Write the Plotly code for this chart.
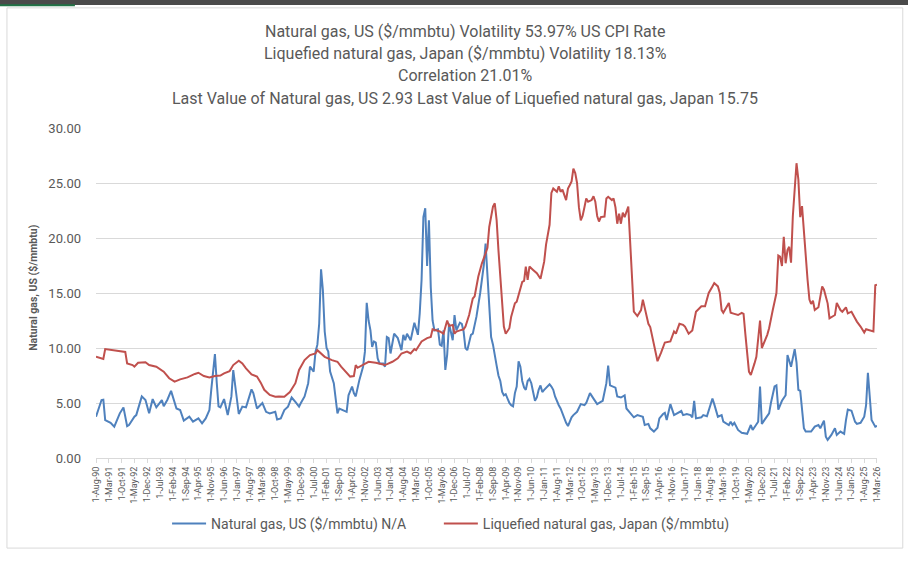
import plotly.graph_objects as go

# values (monthly, $/mmbtu, CPI adjusted)
gas_us_dates = [
    "1990-08", "1990-11", "1990-12", "1991-01", "1991-04", "1991-06", "1991-09", "1991-11",
    "1992-01", "1992-02", "1992-05", "1992-06", "1992-09", "1992-11",
    "1993-01", "1993-03", "1993-05", "1993-08", "1993-09", "1993-11",
    "1994-01", "1994-04", "1994-06", "1994-08", "1994-11",
    "1995-01", "1995-04", "1995-06", "1995-08", "1995-10", "1995-11",
    "1996-01", "1996-02", "1996-03", "1996-04", "1996-06", "1996-08", "1996-10", "1996-11",
    "1997-01", "1997-02", "1997-04", "1997-06", "1997-09", "1997-10", "1997-12",
    "1998-01", "1998-03", "1998-05", "1998-07", "1998-10", "1998-11",
    "1999-01", "1999-03", "1999-05", "1999-07", "1999-09", "1999-11", "1999-12",
    "2000-02", "2000-04", "2000-05", "2000-07", "2000-08", "2000-09", "2000-10", "2000-11", "2000-12",
    "2001-01", "2001-02", "2001-03", "2001-04", "2001-06", "2001-07", "2001-08", "2001-09", "2001-11",
    "2002-01", "2002-02", "2002-04", "2002-05", "2002-06", "2002-08", "2002-10", "2002-11", "2002-12",
    "2003-01", "2003-02", "2003-03", "2003-04", "2003-05", "2003-06", "2003-07", "2003-09",
    "2003-10", "2003-11", "2003-12",
    "2004-01", "2004-03", "2004-05", "2004-07", "2004-08", "2004-09", "2004-10", "2004-12",
    "2005-02", "2005-04", "2005-05", "2005-06", "2005-07", "2005-08", "2005-09", "2005-10",
    "2005-11", "2005-12",
    "2006-01", "2006-03", "2006-04", "2006-05", "2006-06", "2006-07", "2006-08", "2006-09",
    "2006-11", "2006-12",
    "2007-01", "2007-03", "2007-04", "2007-05", "2007-06", "2007-07", "2007-09", "2007-10", "2007-12",
    "2008-02", "2008-03", "2008-04", "2008-05", "2008-06", "2008-07", "2008-08", "2008-09",
    "2008-10", "2008-11", "2008-12",
    "2009-01", "2009-02", "2009-03", "2009-04", "2009-05", "2009-06", "2009-07", "2009-08",
    "2009-09", "2009-10", "2009-11", "2009-12",
    "2010-01", "2010-02", "2010-03", "2010-04", "2010-05", "2010-06", "2010-07", "2010-08",
    "2010-09", "2010-10", "2010-11", "2010-12",
    "2011-01", "2011-02", "2011-03", "2011-04", "2011-05", "2011-06", "2011-07", "2011-08",
    "2011-09", "2011-10", "2011-11", "2011-12",
    "2012-01", "2012-02", "2012-03", "2012-04", "2012-05", "2012-07", "2012-09", "2012-11", "2012-12",
    "2013-02", "2013-04", "2013-06", "2013-08", "2013-09", "2013-11", "2013-12",
    "2014-01", "2014-03", "2014-04", "2014-05", "2014-07", "2014-09", "2014-10", "2014-12",
    "2015-02", "2015-04", "2015-07", "2015-08", "2015-10", "2015-11",
    "2016-01", "2016-03", "2016-04", "2016-06", "2016-07", "2016-08", "2016-10", "2016-12",
    "2017-02", "2017-04", "2017-05", "2017-07", "2017-09", "2017-10", "2017-11", "2017-12",
    "2018-03", "2018-04", "2018-06", "2018-07", "2018-09", "2018-10", "2018-12",
    "2019-02", "2019-03", "2019-06", "2019-07", "2019-08", "2019-09", "2019-11",
    "2020-01", "2020-04", "2020-06", "2020-07", "2020-09", "2020-10", "2020-11", "2020-12",
    "2021-02", "2021-04", "2021-05", "2021-07", "2021-08", "2021-09", "2021-11",
    "2022-01", "2022-02", "2022-04", "2022-06", "2022-07", "2022-08", "2022-09", "2022-11", "2022-12",
    "2023-03", "2023-05", "2023-07", "2023-08", "2023-10", "2023-11", "2023-12",
    "2024-02", "2024-04", "2024-05", "2024-07", "2024-09", "2024-10", "2024-11",
    "2025-01", "2025-03", "2025-04", "2025-06", "2025-08", "2025-09", "2025-10", "2025-12",
    "2026-02", "2026-03",
]
gas_us = [
    3.75, 5.27, 5.3, 3.45, 3.2, 2.85, 4.06, 4.6,
    2.9, 3.0, 3.75, 3.9, 5.6, 5.27,
    4.06, 5.36, 4.6, 5.27, 4.7, 5.3,
    6.1, 4.5, 4.36, 3.4, 3.75,
    3.3, 3.6, 3.15, 3.6, 4.36, 6.2,
    9.45, 6.8, 4.7, 4.6, 5.36, 3.9, 5.6, 8.0,
    5.6, 4.0, 4.67, 4.6, 6.24, 5.9, 4.5,
    4.67, 5.0, 4.2, 4.06, 4.2, 3.5,
    3.6, 4.36, 4.67, 5.5, 5.1, 4.67, 5.0,
    5.6, 6.8, 8.3, 7.85, 9.67, 10.3, 12.2, 17.15, 15.3,
    11.5, 10.0, 9.67, 7.85, 6.8, 5.6, 4.06, 4.5, 4.36,
    4.2, 5.7, 6.5, 5.9, 5.6, 7.1, 8.3, 9.67, 14.1,
    12.5, 11.6, 10.1, 10.6, 10.5, 9.06, 8.6, 8.6,
    8.3, 11.0, 10.9,
    9.5, 11.3, 10.9, 9.8, 11.2, 10.7, 11.3, 10.7,
    12.3, 11.2, 13.15, 16.2, 21.9, 22.7, 17.45, 21.6,
    15.5, 12.5,
    11.6, 11.7, 10.3, 10.2, 11.6, 8.0, 9.4, 12.2,
    10.7, 13.0,
    11.6, 12.3, 12.2, 11.5, 10.0, 9.8, 11.2, 11.3, 12.85,
    15.0, 16.3, 17.5, 19.5, 16.5, 13.5, 11.0, 10.3,
    9.2, 8.4, 7.5,
    7.0, 6.0, 5.7, 5.8, 5.4, 5.0, 4.8, 4.7,
    5.9, 6.5, 8.8, 8.3,
    7.0, 6.4, 6.2, 7.0, 7.2, 6.8, 6.0, 5.2,
    5.5, 6.2, 6.6, 6.0,
    6.2, 6.4, 6.5, 6.7, 6.5, 6.2, 5.6, 5.1,
    4.8, 4.5, 4.0, 3.5,
    3.2, 2.9, 3.3, 3.7, 3.9, 4.2, 4.9, 4.8, 5.0,
    5.9, 5.4, 4.9, 5.1, 5.2, 6.8, 8.4,
    6.6, 6.5, 6.4, 5.6, 5.5, 5.7, 4.5, 4.1,
    3.7, 3.9, 3.75, 3.0, 3.1, 2.7,
    2.4, 2.75, 3.6, 4.0, 4.1, 3.45, 4.9, 3.9,
    4.1, 4.27, 3.9, 4.0, 3.9, 3.7, 5.2, 3.6,
    3.7, 3.9, 3.8, 4.36, 5.4, 4.9, 3.75,
    3.9, 3.3, 3.0, 3.3, 3.0, 3.2, 2.55,
    2.3, 2.2, 3.0, 2.55, 3.1, 3.3, 6.5, 3.1,
    3.6, 4.06, 5.0, 6.5, 6.6, 4.4, 5.2,
    5.7, 9.36, 8.3, 9.9, 8.7, 6.2, 6.1, 2.7, 2.4,
    2.4, 2.85, 3.0, 2.7, 3.4, 1.94, 1.64,
    2.1, 2.7, 2.1, 2.4, 2.2, 3.45, 4.4,
    4.3, 3.3, 3.1, 3.2, 3.75, 4.8, 7.75, 3.45,
    2.85, 2.93,
]

lng_jp_dates = [
    "1990-08", "1990-11", "1990-12", "1991-01", "1991-06", "1991-12",
    "1992-01", "1992-04", "1992-05", "1992-07", "1992-11",
    "1993-01", "1993-05", "1993-09", "1993-12",
    "1994-03", "1994-06", "1994-10",
    "1995-02", "1995-04", "1995-07", "1995-10",
    "1996-01", "1996-04", "1996-06", "1996-09", "1996-11",
    "1997-02", "1997-04", "1997-06", "1997-09", "1997-12",
    "1998-02", "1998-04", "1998-07", "1998-10", "1998-12",
    "1999-03", "1999-06", "1999-09", "1999-11",
    "2000-02", "2000-05", "2000-08", "2000-09", "2000-11",
    "2001-01", "2001-05", "2001-08", "2001-10",
    "2002-01", "2002-03", "2002-05", "2002-06", "2002-07", "2002-10",
    "2003-01", "2003-05", "2003-07", "2003-10",
    "2004-02", "2004-05", "2004-07", "2004-10", "2004-12",
    "2005-02", "2005-03", "2005-06", "2005-09", "2005-11", "2005-12",
    "2006-02", "2006-04", "2006-06", "2006-08", "2006-09", "2006-11", "2006-12",
    "2007-01", "2007-03", "2007-05", "2007-06", "2007-08", "2007-10", "2007-11",
    "2008-01", "2008-03", "2008-05", "2008-06", "2008-07", "2008-09", "2008-10", "2008-11", "2008-12",
    "2009-01", "2009-02", "2009-03", "2009-04", "2009-06", "2009-07", "2009-09", "2009-10", "2009-12",
    "2010-01", "2010-02", "2010-03", "2010-04", "2010-05", "2010-07", "2010-09", "2010-11",
    "2011-01", "2011-02", "2011-04", "2011-05", "2011-06", "2011-08", "2011-09", "2011-10", "2011-11",
    "2012-01", "2012-02", "2012-03", "2012-04", "2012-05", "2012-06", "2012-07", "2012-08",
    "2012-09", "2012-10", "2012-11", "2012-12",
    "2013-01", "2013-03", "2013-04", "2013-05", "2013-06", "2013-07", "2013-08", "2013-10",
    "2013-11", "2013-12",
    "2014-02", "2014-03", "2014-04", "2014-05", "2014-06", "2014-07", "2014-08", "2014-09",
    "2014-11", "2014-12",
    "2015-01", "2015-02", "2015-04", "2015-06", "2015-07", "2015-08", "2015-10", "2015-11", "2015-12",
    "2016-02", "2016-03", "2016-05", "2016-07", "2016-10", "2016-12",
    "2017-01", "2017-03", "2017-05", "2017-06", "2017-08", "2017-10", "2017-12",
    "2018-01", "2018-03", "2018-05", "2018-07", "2018-09", "2018-10", "2018-12",
    "2019-01", "2019-02", "2019-03", "2019-06", "2019-07", "2019-09", "2019-11",
    "2020-01", "2020-02", "2020-03", "2020-04", "2020-05", "2020-06", "2020-07", "2020-08",
    "2020-09", "2020-10", "2020-11", "2020-12",
    "2021-01", "2021-02", "2021-03", "2021-04", "2021-05", "2021-06", "2021-07", "2021-08",
    "2021-09", "2021-10", "2021-11", "2021-12",
    "2022-01", "2022-02", "2022-03", "2022-04", "2022-05", "2022-06", "2022-07", "2022-08",
    "2022-09", "2022-10", "2022-11", "2022-12",
    "2023-01", "2023-02", "2023-03", "2023-04", "2023-05", "2023-07", "2023-09", "2023-10", "2023-12",
    "2024-01", "2024-03", "2024-04", "2024-05", "2024-07", "2024-08", "2024-10", "2024-11",
    "2025-01", "2025-03", "2025-04", "2025-06", "2025-08", "2025-09", "2025-11", "2025-12",
    "2026-01", "2026-02", "2026-03",
]
lng_jp = [
    9.2, 9.0, 9.0, 9.9, 9.8, 9.64,
    8.6, 8.45, 8.3, 8.66, 8.7,
    8.45, 8.3, 7.85, 7.25,
    6.94, 7.15, 7.33,
    7.64, 7.75, 7.45, 7.33,
    7.45, 7.5, 7.7, 7.9, 8.45,
    8.85, 8.6, 8.15, 7.6, 7.4,
    6.85, 6.2, 5.73, 5.57, 5.6,
    5.57, 6.0, 6.8, 8.0,
    8.9, 9.36, 9.5, 9.8, 9.5,
    9.2, 8.9, 8.75, 8.3,
    7.7, 7.4, 7.45, 8.45, 8.2, 8.45,
    8.75, 8.66, 8.6, 8.45,
    8.75, 9.06, 9.5, 9.67, 9.5,
    9.9, 9.8, 10.6, 10.9, 11.0, 11.7,
    11.6, 11.5, 11.3, 12.5, 12.0, 12.1, 11.3,
    11.5, 11.6, 11.7, 11.95, 13.0, 14.5, 14.7,
    16.5, 17.7, 18.6, 19.1, 21.0, 22.85, 23.15, 21.6, 18.9,
    16.2, 13.45, 11.95, 11.3, 11.8, 12.85, 14.06, 14.2, 15.4,
    16.0, 16.1, 17.4, 16.2, 17.4, 17.1, 16.8, 16.3,
    17.85, 19.4, 21.2, 24.1, 24.5, 24.2, 24.7, 24.2, 24.4,
    23.45, 24.5, 24.8, 25.15, 26.3, 25.9, 25.0, 22.8,
    21.6, 22.0, 22.8, 23.6,
    23.3, 23.45, 23.8, 23.3, 22.0, 21.5, 21.9, 21.95,
    23.6, 23.75,
    23.45, 23.6, 22.8, 21.3, 22.2, 21.3, 22.3, 21.9,
    22.85, 19.8,
    17.1, 13.3, 12.9, 13.45, 14.4, 13.7, 12.2, 11.9, 11.2,
    9.6, 8.8, 9.6, 10.5, 10.6, 11.5,
    11.3, 12.2, 12.1, 11.95, 11.3, 11.6, 13.3,
    13.5, 13.8, 13.8, 15.0, 15.6, 15.9, 15.6,
    15.0, 13.45, 13.2, 14.1, 13.2, 13.1, 13.0,
    13.2, 13.1, 11.3, 9.2, 7.85, 7.55, 8.0, 8.6,
    9.2, 11.0, 12.5, 10.0,
    10.4, 10.7, 11.2, 11.8, 12.8, 13.45, 14.2, 15.0,
    18.4, 18.3, 17.45, 20.1,
    17.7, 18.9, 19.2, 17.75, 22.0, 24.5, 26.8, 25.3,
    21.9, 22.9, 20.5, 18.5,
    16.2, 14.4, 14.0, 14.3, 13.45, 13.7, 15.6, 15.3, 14.06,
    12.7, 12.85, 13.0, 14.1, 13.45, 13.3, 13.7, 13.15,
    13.3, 12.7, 12.4, 11.95, 11.4, 11.7, 11.6, 11.5,
    11.5, 15.7, 15.75,
]

title_lines = [
    "Natural gas, US ($/mmbtu) Volatility 53.97% US CPI Rate",
    "Liquefied natural gas, Japan ($/mmbtu) Volatility 18.13%",
    "Correlation 21.01%",
    "Last Value of Natural gas, US 2.93 Last Value of Liquefied natural gas, Japan 15.75",
]

FONT = "Roboto, Liberation Sans, sans-serif"
GREY_TXT = "#595959"

fig = go.Figure()
fig.add_trace(go.Scatter(x=gas_us_dates, y=gas_us, mode="lines",
                         name="Natural gas, US ($/mmbtu) N/A", legend="legend",
                         line=dict(color="#4F81BD", width=2)))
fig.add_trace(go.Scatter(x=lng_jp_dates, y=lng_jp, mode="lines",
                         name="Liquefied natural gas, Japan ($/mmbtu)", legend="legend2",
                         line=dict(color="#C0504D", width=2)))

# title, one annotation per line so the spacing matches
for k, line in enumerate(title_lines):
    fig.add_annotation(text=line, xref="paper", yref="paper",
                       x=0.4725, y=1.291 - k * 0.0667, showarrow=False,
                       xanchor="center", yanchor="middle",
                       font=dict(family=FONT, size=16, color=GREY_TXT))

fig.add_annotation(text="<b>Natural gas, US ($/mmbtu)</b>", xref="paper", yref="paper",
                   x=-0.081, y=0.515, textangle=-90, showarrow=False,
                   xanchor="center", yanchor="middle",
                   font=dict(family=FONT, size=10.5, color=GREY_TXT))

# chart border and the sheet strip at the top of the screenshot
fig.add_shape(type="rect", xref="paper", yref="paper",
              x0=-0.114, x1=1.033, y0=-0.273, y1=1.364,
              line=dict(color="#D9D9D9", width=1), fillcolor="rgba(0,0,0,0)", layer="below")
fig.add_shape(type="rect", xref="paper", yref="paper",
              x0=-0.125, x1=1.04, y0=1.373, y1=1.39,
              line=dict(width=0), fillcolor="#4a4a4a", layer="below")
fig.add_shape(type="line", xref="paper", yref="paper",
              x0=-0.125, x1=-0.027, y0=1.372, y1=1.372,
              line=dict(color="#217346", width=2))

fig.update_xaxes(type="date", range=["1990-08-01", "2026-03-01 12:00"],
                 tick0="1990-08-01", dtick="M7", tickformat="%-d-%b-%y",
                 tickangle=-90, tickfont=dict(family=FONT, size=9, color=GREY_TXT),
                 showgrid=False, showline=True, linecolor="#D9D9D9", linewidth=1,
                 ticks="outside", tickcolor="#D9D9D9", ticklen=4, zeroline=False)
fig.update_yaxes(range=[0, 30], dtick=5, tickformat=".2f",
                 tickfont=dict(family=FONT, size=13, color=GREY_TXT),
                 showgrid=True, gridcolor="#D9D9D9", gridwidth=1,
                 zeroline=False, showline=False, ticks="", ticklabelstandoff=14)

legend_style = dict(orientation="h", xanchor="left", y=-0.2, yanchor="middle",
                    font=dict(family=FONT, size=14, color=GREY_TXT),
                    itemwidth=34, bgcolor="rgba(0,0,0,0)")

fig.update_layout(
    width=908, height=563,
    margin=dict(l=96, r=31, t=128, b=105),
    paper_bgcolor="white", plot_bgcolor="white",
    font=dict(family=FONT, color=GREY_TXT),
    showlegend=True,
    legend=dict(x=0.091, **legend_style),
    legend2=dict(x=0.439, **legend_style),
)

# the page is photographed from the top-left corner, so drop the default body margin
fig.write_html("out.html", config={"displayModeBar": False},
               post_script="document.body.style.margin='0';")
